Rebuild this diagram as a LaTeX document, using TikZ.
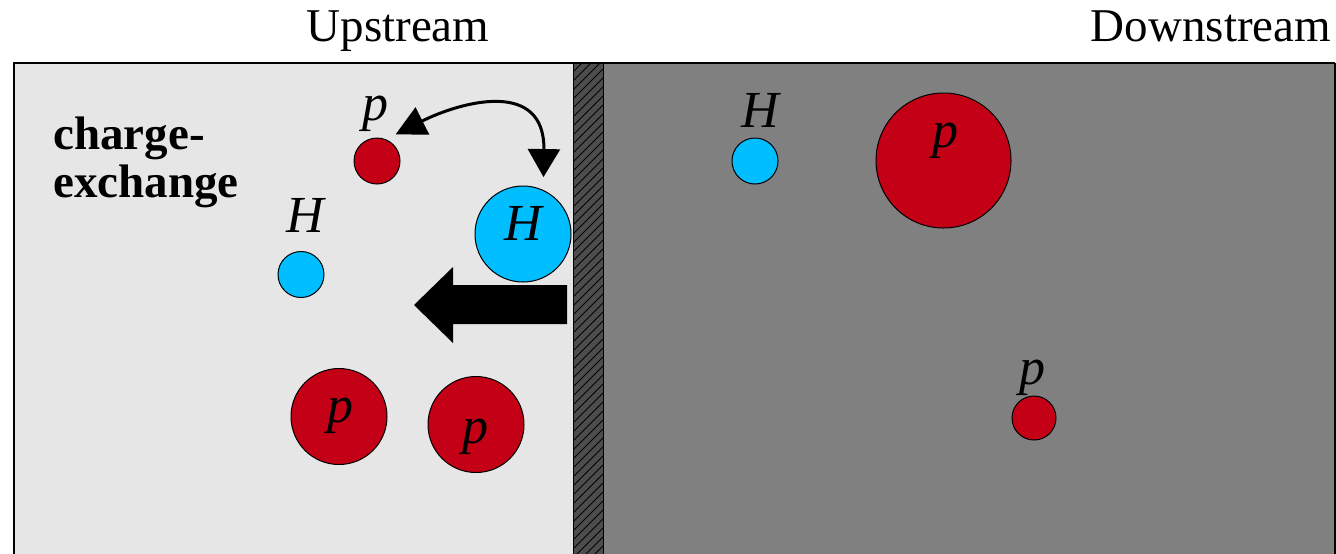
\documentclass[tikz,border=0pt]{standalone}
\usepackage{fontspec}
\setmainfont{LiberationSerif}[Extension=.ttf, UprightFont=*-Regular, BoldFont=*-Bold, ItalicFont=*-Italic, BoldItalicFont=*-BoldItalic]
\usetikzlibrary{arrows.meta}
\definecolor{pred}{RGB}{196,0,22}
\definecolor{hblue}{RGB}{0,190,255}
\definecolor{upgray}{RGB}{230,230,230}
\definecolor{downgray}{RGB}{128,128,128}
\definecolor{wallgray}{RGB}{77,77,77}
\tikzset{
  particle/.style={circle, draw=black, line width=0.5pt, inner sep=0pt},
  proton/.style={particle, fill=pred},
  hydrogen/.style={particle, fill=hblue},
  plabel/.style={anchor=base, inner sep=0pt, font=\fontsize{26}{30}\selectfont\itshape},
  head/.style={anchor=base, inner sep=0pt, font=\fontsize{23.5}{28}\selectfont},
  xarrow/.style={line width=1.5pt, {Triangle[length=15pt,width=15pt]}-{Triangle[length=14pt,width=16pt]}},
}
\begin{document}
\begin{tikzpicture}[x=0.5pt,y=-0.5pt]
\useasboundingbox (0,0) rectangle (1336,553);
\clip (0,0) rectangle (1336,553);
% regions
\fill[upgray] (14,63) rectangle (573,600);
\fill[downgray] (603,63) rectangle (1335,600);
\fill[wallgray] (573,63) rectangle (603,600);
\begin{scope}
  \clip (573,63) rectangle (603,600);
  \foreach \i in {-5,...,65} \draw[black, line width=0.4pt] (573,63+9*\i) -- ++(40,-40);
\end{scope}
\draw[black, line width=0.5pt] (573,63) -- (573,600) (603,63) -- (603,600);
\draw[black, line width=0.8pt] (1335,63) -- (1335,600);
\draw[black, line width=1.3pt] (14,600) -- (14,63) -- (1335,63);
% headings
\node[head] (up) at (398,41) {Upstream};
\node[head] (down) at (1211,41) {Downstream};
\node[anchor=base west, inner sep=0pt, align=left, font=\fontsize{23.5}{24}\selectfont\bfseries] (cx) at (53,197) {charge-\\exchange};
% upstream particles
\node[proton, minimum size=23pt] (p1) at (377,161) {};
\node[plabel] (p1l) at (375,120) {p};
\node[hydrogen, minimum size=23pt] (h1) at (301,274.5) {};
\node[plabel] (h1l) at (305,232) {H};
\node[hydrogen, minimum size=48pt] (h2) at (523,234) {};
\node[plabel] (h2l) at (523,240) {H};
\node[proton, minimum size=48pt] (p2) at (339,416.5) {};
\node[plabel] (p2l) at (340,422) {p};
\node[proton, minimum size=48pt] (p3) at (476,424.5) {};
\node[plabel] (p3l) at (475,443) {p};
% downstream particles
\node[hydrogen, minimum size=23pt] (h3) at (755,161) {};
\node[plabel] (h3l) at (760,127) {H};
\node[proton, minimum size=67.5pt] (p4) at (943.5,160.5) {};
\node[plabel] (p4l) at (945,147) {p};
\node[proton, minimum size=22pt] (p5) at (1034,418) {};
\node[plabel] (p5l) at (1032,384) {p};
% charge exchange arrow
\coordinate (ca) at ([shift={(2,-10)}]p1.north east);
\coordinate (cb) at ([shift={(0,-13)}]h2.65);
\draw[xarrow] (ca) .. controls (460,102) and (545,78) .. (cb);
% block arrow
\fill[black] (567,285) -- (453,285) -- (453,267) -- (414,305) -- (453,343) -- (453,324) -- (567,324) -- cycle;
\end{tikzpicture}
\end{document}
